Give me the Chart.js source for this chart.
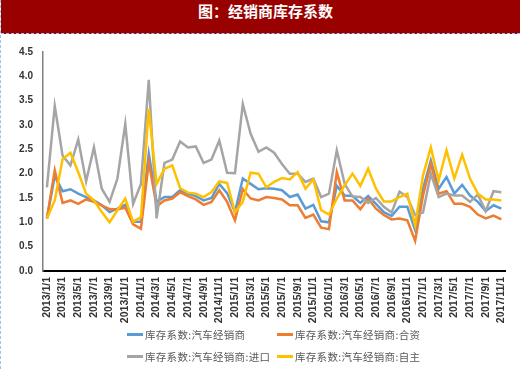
<!DOCTYPE html>
<html>
<head>
<meta charset="utf-8">
<script src="https://cdn.jsdelivr.net/npm/chart.js@4/dist/chart.umd.min.js"></script>
<style>
  html, body { margin: 0; padding: 0; background: #fff; }
  #page { position: relative; width: 520px; height: 369px; overflow: hidden; border-left: 1px dashed #9cc3f0; box-sizing: border-box; }
  #title {
    height: 33px; line-height: 33px; background: #990000; color: #fff;
    text-align: center; font: bold 15px 'Noto Sans CJK SC', sans-serif;
    border-bottom: 1px dashed #9cc3f0; padding-left: 10px;
  }
  #wrap { position: absolute; left: -1px; top: 34px; width: 520px; height: 335px; }
  #legend {
    position: absolute; left: 126px; top: 323px;
    display: grid; grid-template-columns: 150px auto; grid-auto-rows: 22px;
    font: 10.5px 'Noto Sans CJK SC', sans-serif; color: #595959; letter-spacing: 0.3px;
  }
  #legend .it { display: flex; align-items: center; white-space: nowrap; }
  #legend .ln { display: inline-block; width: 16px; height: 3px; margin-right: 2px; }
</style>
</head>
<body>
<div id="page">
  <div id="title">图：经销商库存系数</div>
  <div id="wrap"><canvas id="c"></canvas></div>
  <div id="legend"></div>
</div>
<script>
// ─── データ ──────────────────────────────────────────
const months = [];
for (let y = 2013; y <= 2017; y++) {
  for (let m = 1; m <= 12; m++) {
    if (y === 2017 && m > 11) break;
    months.push(`${y}/${m}/1`);
  }
}

const seriesNames = [
  '库存系数:汽车经销商',
  '库存系数:汽车经销商:合资',
  '库存系数:汽车经销商:进口',
  '库存系数:汽车经销商:自主',
];

const dealerAll = [
  1.08, 1.95, 1.64, 1.68, 1.59, 1.52, 1.45, 1.35, 1.21, 1.28, 1.36, 1.01,
  1.01, 2.41, 1.42, 1.52, 1.52, 1.66, 1.59, 1.54, 1.45, 1.50, 1.79, 1.60,
  1.21, 1.90, 1.79, 1.68, 1.70, 1.69, 1.66, 1.52, 1.57, 1.28, 1.36, 1.02,
  1.00, 1.75, 1.55, 1.54, 1.40, 1.54, 1.38, 1.21, 1.13, 1.32, 1.32, 0.84,
  1.69, 2.27, 1.69, 1.93, 1.59, 1.77, 1.55, 1.42, 1.23, 1.35, 1.28,
];
const dealerJV = [
  1.08, 2.07, 1.40, 1.45, 1.38, 1.47, 1.42, 1.35, 1.27, 1.27, 1.30, 0.96,
  0.87, 2.24, 1.33, 1.45, 1.49, 1.62, 1.54, 1.47, 1.36, 1.42, 1.66, 1.42,
  1.04, 1.68, 1.49, 1.45, 1.52, 1.50, 1.47, 1.35, 1.35, 1.09, 1.16, 0.89,
  0.86, 2.03, 1.45, 1.45, 1.27, 1.49, 1.28, 1.15, 1.06, 1.08, 1.04, 0.62,
  1.55, 2.20, 1.59, 1.64, 1.38, 1.38, 1.32, 1.16, 1.08, 1.14, 1.06,
];
const dealerImport = [
  1.72, 3.39, 2.37, 2.17, 2.70, 1.84, 2.54, 1.69, 1.42, 1.90, 3.02, 1.38,
  1.79, 3.93, 1.08, 2.22, 2.29, 2.66, 2.54, 2.56, 2.22, 2.29, 2.68, 2.02,
  2.01, 3.43, 2.82, 2.45, 2.54, 2.43, 2.20, 2.00, 2.00, 1.83, 1.90, 1.52,
  1.59, 2.48, 1.79, 1.53, 1.52, 1.40, 1.50, 1.32, 1.20, 1.63, 1.52, 1.15,
  1.20, 2.00, 1.52, 1.59, 1.55, 1.55, 1.42, 1.57, 1.23, 1.64, 1.62,
];
const dealerOwn = [
  1.08, 1.45, 2.30, 2.43, 2.03, 1.59, 1.45, 1.21, 1.00, 1.25, 1.49, 1.01,
  1.11, 3.33, 1.79, 2.10, 2.17, 1.70, 1.61, 1.59, 1.52, 1.62, 1.84, 1.81,
  1.21, 1.42, 2.02, 2.00, 1.72, 1.83, 1.91, 1.88, 2.03, 1.69, 1.88, 1.25,
  1.16, 1.49, 1.76, 2.00, 1.75, 2.10, 1.69, 1.43, 1.43, 1.52, 1.59, 0.94,
  1.96, 2.54, 1.86, 2.48, 1.90, 2.39, 1.90, 1.59, 1.47, 1.47, 1.45,
];

const COLORS = ['#5B9BD5', '#ED7D31', '#A5A5A5', '#FFC000'];
const TICK_FONT = { family: 'Liberation Sans', weight: 'bold' };

// ─── グラフ ──────────────────────────────────────────
const mkLine = (label, data, i) => ({
  label, data,
  borderColor: COLORS[i], backgroundColor: COLORS[i],
  borderWidth: 2.5, pointRadius: 0, tension: 0, order: 4 - i,
});

const chart = new Chart(document.getElementById('c').getContext('2d'), {
  type: 'line',
  data: {
    labels: months,
    datasets: [
      mkLine(seriesNames[0], dealerAll, 0),
      mkLine(seriesNames[1], dealerJV, 1),
      mkLine(seriesNames[2], dealerImport, 2),
      mkLine(seriesNames[3], dealerOwn, 3),
    ],
  },
  options: {
    responsive: true,
    maintainAspectRatio: false,
    animation: false,
    layout: { padding: { top: 18, right: 7, left: 0, bottom: 0 } },
    plugins: { legend: { display: false }, tooltip: { enabled: false } },
    scales: {
      x: {
        offset: true,
        grid: { display: false, drawTicks: false },
        border: { display: true, color: '#000', width: 2 },
        ticks: {
          autoSkip: false, minRotation: 90, maxRotation: 90, padding: 6,
          color: '#333', font: { ...TICK_FONT, size: 10.5 },
          callback: (v, i) => (i % 2 === 0 ? months[i] : ''),
        },
        afterFit: s => { s.height = 98; },
      },
      y: {
        min: 0, max: 4.5,
        grid: { display: false, drawTicks: false },
        border: { display: true, color: '#808080', width: 1.5 },
        ticks: {
          stepSize: 0.5, padding: 10,
          color: '#333', font: { ...TICK_FONT, size: 10 },
          callback: v => v.toFixed(1),
        },
        afterFit: s => { s.width = 43; },
      },
    },
  },
});

// ─── 凡例 ────────────────────────────────────────────
const legendEl = document.getElementById('legend');
chart.data.datasets.forEach(ds => {
  const it = document.createElement('div');
  it.className = 'it';
  it.innerHTML = `<span class="ln" style="background:${ds.borderColor}"></span>${ds.label}`;
  legendEl.appendChild(it);
});
</script>
</body>
</html>
